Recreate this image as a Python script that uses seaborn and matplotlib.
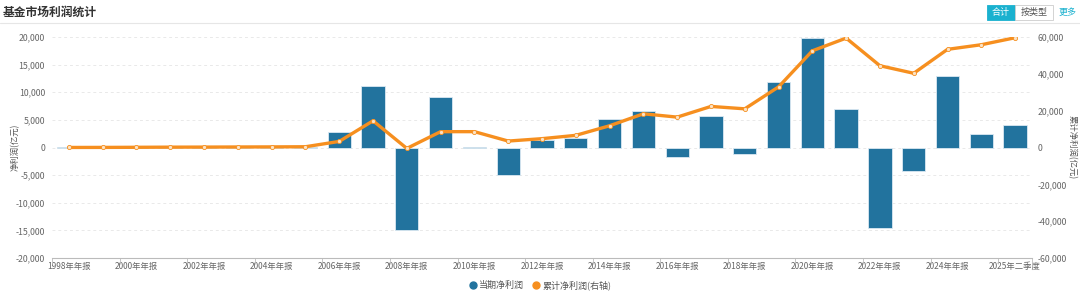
import numpy as np
import pandas as pd
import matplotlib
matplotlib.use("Agg")
import matplotlib.pyplot as plt
from matplotlib.lines import Line2D
from matplotlib.patches import Rectangle
from matplotlib.ticker import FuncFormatter, FixedLocator
import seaborn as sns

# ---------------- data ----------------
categories = [f"{y}年年报" for y in range(1998, 2025)] + ["2025年一季度", "2025年二季度"]
period_profit = [20, 30, 60, 80, 30, 60, 50, 80, 2800, 11200, -15000, 9200, 60, -5000,
                 1300, 1800, 5200, 6600, -1700, 5700, -1200, 11800, 19800, 7000,
                 -14500, -4300, 13000, 2500, 4000]
cumulative_profit = [20, 50, 110, 190, 220, 280, 330, 410, 3300, 14500, -500, 8600, 8600, 3500,
                     4800, 6600, 11800, 18300, 16500, 22300, 21000, 32900, 52500, 59400,
                     44400, 40300, 53300, 55800, 59600]
left_ticks = [-20000, -15000, -10000, -5000, 0, 5000, 10000, 15000, 20000]
right_ticks = [-60000, -40000, -20000, 0, 20000, 40000, 60000]
title = "基金市场利润统计"
left_label = "净利润(亿元)"
right_label = "累计净利润(亿元)"
bar_name = "当期净利润"
line_name = "累计净利润(右轴)"

df = pd.DataFrame({"cat": categories, "period": period_profit, "cum": cumulative_profit})
df["pos"] = np.arange(len(df))

# ---------------- style ----------------
sns.set_theme(style="white")
plt.rcParams["font.family"] = ["Noto Sans CJK SC", "DejaVu Sans"]

BAR = "#22739e"
LINE = "#f68f1f"
TXT = "#666666"
TEAL = "#1ab1cf"

W, H = 1080, 292
fig = plt.figure(figsize=(W / 100, H / 100), dpi=100)
ax = fig.add_axes([52 / W, (H - 258) / H, (1032 - 52) / W, (258 - 37) / H])

sns.barplot(data=df, x="pos", y="period", color=BAR, width=0.69, saturation=1,
            edgecolor="#dbe9f2", linewidth=0.6, ax=ax, zorder=3)

ax.set_xlim(-0.5, len(categories) - 0.5)
ax.set_ylim(left_ticks[0], left_ticks[-1])
ax.set_yticks(left_ticks)
ax.yaxis.set_major_formatter(FuncFormatter(lambda v, p: f"{int(v):,}"))
ax.tick_params(axis="y", labelsize=6.3, colors=TXT, length=0, pad=5)
for y in left_ticks[1:]:
    ax.axhline(y, color="#e9e9e9", lw=0.7, ls=(0, (3, 3)), zorder=0)

label_idx = list(range(0, 27, 2)) + [len(categories) - 1]
ax.xaxis.set_major_locator(FixedLocator(label_idx))
ax.set_xticklabels([categories[i] for i in label_idx])
ax.xaxis.set_minor_locator(FixedLocator([i - 0.5 for i in range(0, len(categories), 2)] + [len(categories) - 0.5]))
ax.tick_params(axis="x", which="major", labelsize=6, colors=TXT, length=0, pad=3)
ax.tick_params(axis="x", which="minor", length=4, width=0.6, color="#bbbbbb", bottom=True)
ax.set_xlabel("")
ax.set_ylabel("")
for s in ["top", "right", "left"]:
    ax.spines[s].set_visible(False)
ax.spines["bottom"].set_color("#bbbbbb")
ax.spines["bottom"].set_linewidth(0.8)

ax2 = ax.twinx()
sns.lineplot(data=df, x="pos", y="cum", color=LINE, lw=2.4, marker="o", markersize=3,
             markerfacecolor="#fbe3c6", markeredgecolor=LINE, markeredgewidth=0.6,
             ax=ax2, zorder=5)
ax2.set_ylim(right_ticks[0], right_ticks[-1])
ax2.set_yticks(right_ticks)
ax2.yaxis.set_major_formatter(FuncFormatter(lambda v, p: f"{int(v):,}"))
ax2.tick_params(axis="y", labelsize=6.3, colors=TXT, length=0, pad=4)
ax2.set_ylabel("")
for s in ax2.spines.values():
    s.set_visible(False)
ax2.set_xlim(-0.5, len(categories) - 0.5)

fig.text(15 / W, (H - 147) / H, left_label, rotation=90, ha="center", va="center",
         fontsize=6, color="#555555")
fig.text(1072 / W, (H - 147) / H, right_label, rotation=-90, ha="center", va="center",
         fontsize=6, color="#555555")

# title and header
fig.text(3 / W, (H - 12) / H, title, fontsize=8.5, fontweight="bold", color="#333333",
         ha="left", va="center")
fig.add_artist(Line2D([0, 1], [(H - 23) / H] * 2, color="#e6e6e6", lw=0.8))
fig.add_artist(Rectangle((987 / W, (H - 20) / H), 28 / W, 15 / H, facecolor=TEAL,
                         edgecolor=TEAL, lw=0.6))
fig.text(1001 / W, (H - 12.5) / H, "合计", fontsize=6.5, color="white", ha="center", va="center")
fig.add_artist(Rectangle((1015 / W, (H - 20) / H), 38 / W, 15 / H, facecolor="white",
                         edgecolor="#cccccc", lw=0.6))
fig.text(1034 / W, (H - 12.5) / H, "按类型", fontsize=6.5, color="#555555", ha="center", va="center")
fig.text(1068 / W, (H - 12.5) / H, "更多", fontsize=6.5, color=TEAL, ha="center", va="center")

# legend
handles = [Line2D([], [], ls="", marker="o", markersize=5, color=BAR, label=bar_name),
           Line2D([], [], ls="", marker="o", markersize=5, color=LINE, label=line_name)]
fig.legend(handles=handles, loc="center", bbox_to_anchor=(540 / W, (H - 285) / H), ncol=2,
           frameon=False, fontsize=6.5, handletextpad=0.2, columnspacing=0.8,
           labelcolor="#555555", handlelength=1.0)

fig.savefig("out.png", dpi=100, facecolor="white")
